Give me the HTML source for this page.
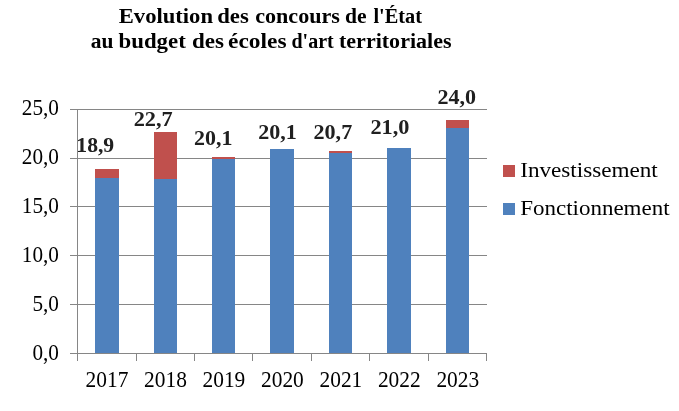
<!DOCTYPE html><html><head><meta charset="utf-8"><title>Evolution des concours de l'État</title>
<style>html,body{margin:0;padding:0;background:#fff}svg{display:block;will-change:transform}text{font-family:"Liberation Serif",serif;fill:#000}.b{font-weight:bold;fill:#202020}</style></head><body>
<svg width="679" height="411" viewBox="0 0 679 411">
<rect width="679" height="411" fill="#fff"/>
<g stroke="#868686" stroke-width="1" shape-rendering="crispEdges">
<line x1="70" y1="109.5" x2="487" y2="109.5"/>
<line x1="70" y1="158.5" x2="487" y2="158.5"/>
<line x1="70" y1="206.5" x2="487" y2="206.5"/>
<line x1="70" y1="255.5" x2="487" y2="255.5"/>
<line x1="70" y1="304.5" x2="487" y2="304.5"/>
<line x1="70" y1="353.5" x2="487" y2="353.5"/>
<line x1="77.5" y1="109" x2="77.5" y2="361"/>
<line x1="136.5" y1="353" x2="136.5" y2="361"/>
<line x1="194.5" y1="353" x2="194.5" y2="361"/>
<line x1="252.5" y1="353" x2="252.5" y2="361"/>
<line x1="311.5" y1="353" x2="311.5" y2="361"/>
<line x1="369.5" y1="353" x2="369.5" y2="361"/>
<line x1="428.5" y1="353" x2="428.5" y2="361"/>
<line x1="486.5" y1="353" x2="486.5" y2="361"/>
</g>
<rect x="95" y="169" width="24.0" height="9" fill="#C0504D"/>
<rect x="95" y="178" width="24.0" height="175" fill="#4F81BD"/>
<rect x="154" y="132" width="23.0" height="47" fill="#C0504D"/>
<rect x="154" y="179" width="23.0" height="174" fill="#4F81BD"/>
<rect x="212" y="157" width="23.0" height="2" fill="#C0504D"/>
<rect x="212" y="159" width="23.0" height="194" fill="#4F81BD"/>
<rect x="270" y="149" width="24.0" height="204" fill="#4F81BD"/>
<rect x="329" y="151" width="23.0" height="2" fill="#C0504D"/>
<rect x="329" y="153" width="23.0" height="200" fill="#4F81BD"/>
<rect x="387" y="148" width="24.0" height="205" fill="#4F81BD"/>
<rect x="446" y="120" width="23.0" height="8" fill="#C0504D"/>
<rect x="446" y="128" width="23.0" height="225" fill="#4F81BD"/>
<text x="21.8" y="114.90" font-size="22.7" textLength="37.1" lengthAdjust="spacingAndGlyphs">25,0</text>
<text x="21.8" y="163.85" font-size="22.7" textLength="37.1" lengthAdjust="spacingAndGlyphs">20,0</text>
<text x="21.8" y="212.80" font-size="22.7" textLength="37.1" lengthAdjust="spacingAndGlyphs">15,0</text>
<text x="21.8" y="261.75" font-size="22.7" textLength="37.1" lengthAdjust="spacingAndGlyphs">10,0</text>
<text x="32.4" y="310.70" font-size="22.7" textLength="26.5" lengthAdjust="spacingAndGlyphs">5,0</text>
<text x="32.4" y="359.65" font-size="22.7" textLength="26.5" lengthAdjust="spacingAndGlyphs">0,0</text>
<text x="85.6" y="387" font-size="22.8" textLength="42.8" lengthAdjust="spacingAndGlyphs">2017</text>
<text x="144.1" y="387" font-size="22.8" textLength="42.8" lengthAdjust="spacingAndGlyphs">2018</text>
<text x="202.5" y="387" font-size="22.8" textLength="42.8" lengthAdjust="spacingAndGlyphs">2019</text>
<text x="261.0" y="387" font-size="22.8" textLength="42.8" lengthAdjust="spacingAndGlyphs">2020</text>
<text x="319.5" y="387" font-size="22.8" textLength="42.8" lengthAdjust="spacingAndGlyphs">2021</text>
<text x="377.9" y="387" font-size="22.8" textLength="42.8" lengthAdjust="spacingAndGlyphs">2022</text>
<text x="436.4" y="387" font-size="22.8" textLength="42.8" lengthAdjust="spacingAndGlyphs">2023</text>
<text class="b" x="76.3" y="152" font-size="21.2" textLength="37.9" lengthAdjust="spacingAndGlyphs">18,9</text>
<text class="b" x="133.7" y="126" font-size="21.2" textLength="39.1" lengthAdjust="spacingAndGlyphs">22,7</text>
<text class="b" x="194.1" y="145" font-size="21.2" textLength="38.4" lengthAdjust="spacingAndGlyphs">20,1</text>
<text class="b" x="258.2" y="139" font-size="21.2" textLength="38.6" lengthAdjust="spacingAndGlyphs">20,1</text>
<text class="b" x="313.5" y="138.7" font-size="21.2" textLength="38.7" lengthAdjust="spacingAndGlyphs">20,7</text>
<text class="b" x="370.4" y="134" font-size="21.2" textLength="39.0" lengthAdjust="spacingAndGlyphs">21,0</text>
<text class="b" x="437.4" y="104" font-size="21.2" textLength="38.6" lengthAdjust="spacingAndGlyphs">24,0</text>
<text class="b" y="23" font-size="20.4" style="fill:#000"><tspan x="118.8" textLength="94.2" lengthAdjust="spacingAndGlyphs">Evolution</tspan> <tspan x="217.2" textLength="31.6" lengthAdjust="spacingAndGlyphs">des</tspan> <tspan x="255.2" textLength="84.7" lengthAdjust="spacingAndGlyphs">concours</tspan> <tspan x="345.1" textLength="21.6" lengthAdjust="spacingAndGlyphs">de</tspan> <tspan x="373.4" textLength="48.6" lengthAdjust="spacingAndGlyphs">l'État</tspan></text>
<text class="b" y="47.7" font-size="20.4" style="fill:#000"><tspan x="90.7" textLength="22.7" lengthAdjust="spacingAndGlyphs">au</tspan> <tspan x="118.5" textLength="67.3" lengthAdjust="spacingAndGlyphs">budget</tspan> <tspan x="191.9" textLength="32.0" lengthAdjust="spacingAndGlyphs">des</tspan> <tspan x="228.1" textLength="58.4" lengthAdjust="spacingAndGlyphs">écoles</tspan> <tspan x="291.5" textLength="42.2" lengthAdjust="spacingAndGlyphs">d'art</tspan> <tspan x="339.0" textLength="112.5" lengthAdjust="spacingAndGlyphs">territoriales</tspan></text>
<rect x="503" y="165" width="12" height="12" fill="#C0504D"/>
<rect x="503" y="203" width="12" height="12" fill="#4F81BD"/>
<text x="520.2" y="177" font-size="22" textLength="137.6" lengthAdjust="spacingAndGlyphs">Investissement</text>
<text x="520.2" y="214.7" font-size="22" textLength="149.4" lengthAdjust="spacingAndGlyphs">Fonctionnement</text>
</svg></body></html>
